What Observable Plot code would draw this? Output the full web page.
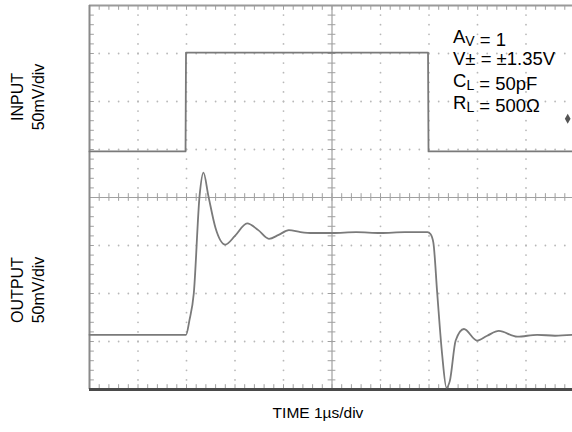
<!DOCTYPE html>
<html>
<head>
<meta charset="utf-8">
<script src="https://cdn.jsdelivr.net/npm/d3@7"></script>
<script src="https://cdn.jsdelivr.net/npm/@observablehq/plot@0.6"></script>
<style>
  html, body { margin: 0; padding: 0; background: #fff; }
</style>
</head>
<body>
<div id="chart"></div>
<script>
// ---- data (time in µs, 1 µs/div; voltage in mV, 50 mV/div on screen) ----
const inputTime = [0, 1.98, 1.99, 6.98, 6.99, 10];
const inputMv   = [48, 48, 151, 151, 48, 48];

const outputTime = [0, 1.99, 2.06, 2.15, 2.27, 2.35, 2.45, 2.6, 2.8, 3.0, 3.25, 3.48, 3.7, 3.9, 4.11, 4.35, 4.6, 5.0, 5.5, 6.0, 6.5, 6.97, 7.03, 7.09, 7.17, 7.27, 7.36, 7.43, 7.55, 7.72, 7.99, 8.2, 8.44, 8.82, 9.23, 9.6, 10];
const outputMv   = [-143, -143, -128, -100, 2, 26, 2, -32, -49, -40, -27, -34, -43, -39, -34, -36, -37, -37, -36, -37, -36, -36, -38, -47, -100, -163, -198, -191, -149, -137, -149, -144, -139, -145, -143, -144, -143];

const markerTime = [9.86];
const markerMv   = [82];

const yLabelInput  = ["INPUT", "50mV/div"];
const yLabelOutput = ["OUTPUT", "50mV/div"];
const xLabel = "TIME 1µs/div";

// annotation lines: [text, isSubscript]
const annotationLines = [
  [["A", false], ["V", true], [" = 1", false]],
  [["V± = ±1.35V", false]],
  [["C", false], ["L", true], [" = 50pF", false]],
  [["R", false], ["L", true], [" = 500Ω", false]]
];

// screen graticule: 10 x 8 divisions, 5 minor steps per division
const majorX = [1, 2, 3, 4, 6, 7, 8, 9];
const majorY = [-150, -100, -50, 50, 100, 150];
const minorX = d3.range(1, 50).map(k => k / 5);
const minorY = d3.range(-19, 20).map(k => k * 10);

const inputData  = inputTime.map((t, i) => ({t, v: inputMv[i]}));
const outputData = outputTime.map((t, i) => ({t, v: outputMv[i]}));
const markerData = markerTime.map((t, i) => ({t, v: markerMv[i]}));

const gridColor = "#b8b8b8";
const traceColor = "#7a7a7a";
const font = "'Liberation Sans', Arial, Helvetica, sans-serif";

const plot = Plot.plot({
  width: 572,
  height: 432,
  marginLeft: 89,
  marginRight: -2,
  marginTop: 5,
  marginBottom: 43,
  x: {domain: [0, 10], axis: null},
  y: {domain: [-200, 200], axis: null},
  style: {fontFamily: font, background: "#fff", overflow: "hidden"},
  marks: [
    // dotted graticule
    Plot.dot(d3.cross(majorX, minorY), {x: d => d[0], y: d => d[1], r: 0.9, fill: gridColor, stroke: null}),
    Plot.dot(d3.cross(minorX, majorY), {x: d => d[0], y: d => d[1], r: 0.9, fill: gridColor, stroke: null}),
    // center axes with minor ticks
    Plot.ruleY([0], {stroke: "#a0a0a0", strokeWidth: 1.2}),
    Plot.ruleX([5], {stroke: "#a0a0a0", strokeWidth: 1.2}),
    Plot.ruleX(minorX, {x: d => d, y1: -4, y2: 4, stroke: "#a0a0a0"}),
    Plot.ruleY(minorY, {y: d => d, x1: 4.92, x2: 5.08, stroke: "#a0a0a0"}),
    // edge ticks
    Plot.ruleX(minorX, {x: d => d, y1: 200, y2: 195, stroke: "#a0a0a0"}),
    Plot.ruleX(minorX, {x: d => d, y1: -200, y2: -195, stroke: "#a0a0a0"}),
    Plot.ruleY(minorY, {y: d => d, x1: 0, x2: 0.1, stroke: "#a0a0a0"}),
    // frame
    Plot.ruleY([200], {stroke: "#9a9a9a", strokeWidth: 2}),
    Plot.ruleX([0], {stroke: "#8a8a8a", strokeWidth: 2}),
    Plot.ruleY([-200], {stroke: "#4a4a4a", strokeWidth: 3}),
    // traces
    Plot.line(inputData, {x: "t", y: "v", stroke: traceColor, strokeWidth: 1.8}),
    Plot.line(outputData, {x: "t", y: "v", stroke: traceColor, strokeWidth: 1.8, curve: "monotone-x"}),
    Plot.dot(markerData, {x: "t", y: "v", symbol: "diamond", r: 3, fill: "#555", stroke: null})
  ]
});

document.getElementById("chart").appendChild(plot);

const svg = d3.select(plot);

// rotated channel labels
function channelLabel(lines, cy) {
  const g = svg.append("g").attr("font-family", font).attr("font-size", 16).attr("fill", "#000").attr("text-anchor", "middle");
  lines.forEach((s, i) => {
    g.append("text")
      .attr("transform", `translate(${23 + i * 21},${cy}) rotate(-90)`)
      .text(s);
  });
}
channelLabel(yLabelInput, 97);
channelLabel(yLabelOutput, 290);

// time label
svg.append("text")
  .attr("x", 318).attr("y", 418)
  .attr("text-anchor", "middle")
  .attr("font-family", font).attr("font-size", 15.5).attr("fill", "#000")
  .text(xLabel);

// rich-text annotation with subscripts
const ann = svg.append("g").attr("font-family", font).attr("font-size", 18.5).attr("fill", "#000").attr("text-anchor", "start");
annotationLines.forEach((segs, i) => {
  const t = ann.append("text").attr("x", 453).attr("y", 43 + i * 22);
  segs.forEach(([s, sub]) => {
    if (sub) {
      t.append("tspan").attr("dy", 3).attr("font-size", 14).text(s);
      t.append("tspan").attr("dy", -3).text("");
    } else {
      t.append("tspan").text(s);
    }
  });
});
</script>
</body>
</html>
